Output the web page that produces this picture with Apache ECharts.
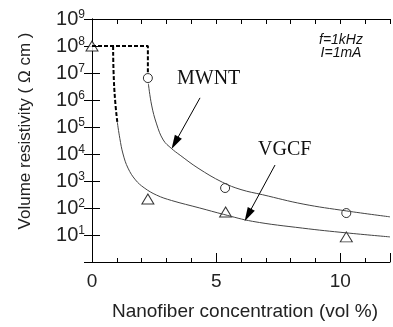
<!DOCTYPE html>
<html>
<head>
<meta charset="utf-8">
<script src="https://cdn.jsdelivr.net/npm/echarts@6/dist/echarts.min.js"></script>
<style>
  html, body { margin: 0; padding: 0; background: #fff; }
  #charts { width: 393px; height: 327px; }
</style>
</head>
<body>
<div id="charts"></div>
<script>
// measured points
var mwntX = [2.25, 5.36, 10.24];
var mwntY = [6.5e6, 550, 65];
var vgcfX = [0, 2.25, 5.38, 10.24];
var vgcfY = [1e8, 215, 71, 8.5];

// fitted curves
var mwntCurveX = [2.27, 2.4, 2.6, 2.87, 3.2, 3.55, 4.27, 5.25, 6.0, 6.87, 8.5, 10.24, 12];
var mwntCurveY = [4.0e6, 6.5e5, 1.3e5, 3.3e4, 1.6e4, 9.0e3, 3.0e3, 900, 480, 310, 140, 78, 47];
var vgcfCurveX = [1.02, 1.12, 1.25, 1.45, 1.75, 2.1, 2.6, 3.2, 4.34, 5.3, 6.47, 8.47, 10.24, 12];
var vgcfCurveY = [1.5e5, 3.8e4, 1.0e4, 3.0e3, 1.1e3, 560, 300, 190, 100, 58, 32, 18, 12, 8.5];

// dashed parts
var dashMwntX = [0, 2.25, 2.25];
var dashMwntY = [1e8, 1e8, 9e6];
var dashVgcfX = [0.85, 0.87, 0.93, 1.02];
var dashVgcfY = [1e8, 1e7, 1e6, 1.5e5];

var xTicks = [0, 5, 10];

function pairs(xs, ys) {
    return xs.map(function (x, i) { return [x, ys[i]]; });
}

var myChart = echarts.init(document.getElementById('charts'));
var option = {
    animation: false,
    grid: { left: 92, top: 19, right: 3, bottom: 65 },
    xAxis: [
        {
            type: 'value', min: 0, max: 12, interval: 5, position: 'bottom',
            splitLine: { show: false },
            axisLine: { lineStyle: { color: '#000', width: 1 } },
            axisTick: { inside: true, length: 9, lineStyle: { color: '#000' } },
            axisLabel: {
                margin: 10, fontSize: 19, color: '#222', fontFamily: 'Liberation Sans',
                formatter: function (v) { return xTicks.indexOf(v) >= 0 ? String(v) : ''; }
            }
        },
        {
            type: 'value', min: 0, max: 12, interval: 1, position: 'bottom',
            splitLine: { show: false },
            axisLine: { show: false },
            axisTick: { inside: true, length: 4, lineStyle: { color: '#000' } },
            axisLabel: { show: false }
        },
        {
            type: 'value', min: 0, max: 12, interval: 1, position: 'top',
            splitLine: { show: false },
            axisLine: { lineStyle: { color: '#000', width: 1 } },
            axisTick: { inside: true, length: 5, lineStyle: { color: '#000' } },
            axisLabel: { show: false }
        }
    ],
    yAxis: [
        {
            type: 'log', logBase: 10, min: 1, max: 1e9, interval: 1, splitNumber: 9,
            position: 'left',
            splitLine: { show: false },
            axisLine: { lineStyle: { color: '#000', width: 1 } },
            axisTick: { inside: true, length: 8, lineStyle: { color: '#000' } },
            axisLabel: {
                margin: 7, fontSize: 20, color: '#222', fontFamily: 'Liberation Sans',
                formatter: function (v) {
                    var e = Math.round(Math.log10(v));
                    return e === 0 ? '' : '10{s|' + e + '}';
                },
                rich: { s: { fontSize: 12, color: '#222', fontFamily: 'Liberation Sans', verticalAlign: 'top' } }
            }
        },
        {
            type: 'log', logBase: 10, min: 1, max: 1e9, interval: 1, splitNumber: 9,
            position: 'right',
            splitLine: { show: false },
            axisLine: { lineStyle: { color: '#000', width: 1 } },
            axisTick: { inside: true, length: 8, lineStyle: { color: '#000' } },
            axisLabel: { show: false }
        }
    ],
    series: [
        {
            name: 'MWNT curve', type: 'line', smooth: 0.4,
            data: pairs(mwntCurveX, mwntCurveY), showSymbol: false,
            lineStyle: { color: '#444', width: 1 },
            markLine: {
                silent: true, symbol: ['none', 'triangle'], symbolSize: [8, 14],
                label: { show: false },
                lineStyle: { color: '#000', width: 1, type: 'solid' },
                data: [[{ coord: [4.35, 1.2e6] }, { coord: [3.34, 2.6e4] }]]
            }
        },
        {
            name: 'VGCF curve', type: 'line', smooth: 0.4,
            data: pairs(vgcfCurveX, vgcfCurveY), showSymbol: false,
            lineStyle: { color: '#444', width: 1 },
            markLine: {
                silent: true, symbol: ['none', 'triangle'], symbolSize: [8, 14],
                label: { show: false },
                lineStyle: { color: '#000', width: 1, type: 'solid' },
                data: [[{ coord: [7.37, 3.9e3] }, { coord: [6.28, 55] }]]
            }
        },
        {
            name: 'MWNT dash', type: 'line', data: pairs(dashMwntX, dashMwntY), showSymbol: false,
            lineStyle: { color: '#000', width: 2, type: [4, 2] }
        },
        {
            name: 'VGCF dash', type: 'line', smooth: true, data: pairs(dashVgcfX, dashVgcfY), showSymbol: false,
            lineStyle: { color: '#000', width: 2, type: [4, 2] }
        },
        {
            name: 'MWNT', type: 'scatter', data: pairs(mwntX, mwntY), clip: false,
            symbol: 'circle', symbolSize: 9,
            itemStyle: { color: '#fff', borderColor: '#000', borderWidth: 1 }
        },
        {
            name: 'VGCF', type: 'scatter', data: pairs(vgcfX, vgcfY), clip: false,
            symbol: 'triangle', symbolSize: [12, 10],
            itemStyle: { color: '#fff', borderColor: '#000', borderWidth: 1 }
        }
    ],
    graphic: [
        { type: 'text', left: 177, top: 69, style: { text: 'MWNT', font: '20px "Liberation Serif"', fill: '#111' } },
        { type: 'text', left: 258, top: 140, style: { text: 'VGCF', font: '20px "Liberation Serif"', fill: '#111' } },
        { type: 'text', x: 341, y: 40, style: { text: 'f=1kHz', font: 'italic 14px "Liberation Sans"', fill: '#111', align: 'center', verticalAlign: 'middle' } },
        { type: 'text', x: 341, y: 53, style: { text: 'I=1mA', font: 'italic 14px "Liberation Sans"', fill: '#111', align: 'center', verticalAlign: 'middle' } },
        { type: 'text', x: 25, y: 131, rotation: Math.PI / 2, style: { text: 'Volume resistivity ( \u03A9 cm )', font: '17px "Liberation Sans"', fill: '#222', align: 'center', verticalAlign: 'middle' } },
        { type: 'text', x: 245, y: 312, style: { text: 'Nanofiber concentration (vol %)', font: '19px "Liberation Sans"', fill: '#222', align: 'center', verticalAlign: 'middle' } }
    ]
};
myChart.setOption(option);
</script>
</body>
</html>
